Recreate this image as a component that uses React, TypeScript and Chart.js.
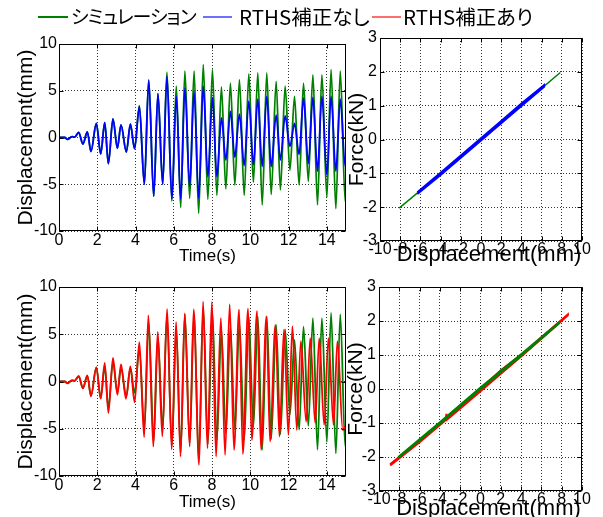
import React, { useEffect, useRef } from 'react';
import { Chart, registerables } from 'chart.js';

Chart.register(...registerables);

// ---------------- data ----------------
const legendLabels = ['シミュレーション', 'RTHS補正なし', 'RTHS補正あり'];

// simulation displacement (green), time [s] / displacement [mm]
const simTime = [0, 0.3, 0.44, 0.68, 0.82, 1.03, 1.25, 1.48, 1.67, 1.95, 2.18, 2.39, 2.58, 2.82, 3.05, 3.24, 3.52, 3.73, 3.95, 4.2, 4.46, 4.69, 4.95, 5.17, 5.42, 5.64, 5.9, 6.13, 6.36, 6.58, 6.83, 7.06, 7.3, 7.54, 7.78, 8.02, 8.25, 8.49, 8.72, 8.96, 9.19, 9.43, 9.68, 9.92, 10.16, 10.39, 10.62, 10.86, 11.09, 11.35, 11.57, 11.82, 12.07, 12.31, 12.55, 12.78, 13.03, 13.27, 13.51, 13.74, 14.0, 14.22, 14.47, 14.7, 14.96, 15];
const simDisp = [0, 0, -0.2, 0.1, 0.05, 0.55, -0.7, 0.6, -1.5, 1.5, -1.75, 1.6, -2.8, 2.0, -1.15, 1.35, -1.55, 1.4, -1.2, 3.4, -5.0, 6.2, -6.3, 4.7, -5.0, 7.0, -6.8, 5.5, -7.5, 7.1, -6.5, 7.1, -8.1, 7.8, -6.6, 7.25, -6.2, 5.4, -5.5, 5.8, -5.1, 6.2, -6.2, 6.8, -4.8, 6.9, -7.2, 6.9, -6.1, 6.0, -5.6, 5.5, -3.5, 4.4, -5.1, 5.8, -4.7, 6.7, -7.2, 6.7, -6.4, 7.25, -7.6, 7.1, -6.9, -6.8];

// RTHS without correction (blue)
const noCorrTime = simTime;
const noCorrDisp = [0, 0, -0.2, 0.1, 0.05, 0.55, -0.7, 0.6, -1.5, 1.5, -1.75, 1.6, -2.8, 2.0, -1.15, 1.35, -1.55, 1.45, -1.2, 3.3, -5.0, 6.1, -6.3, 4.7, -5.0, 6.5, -6.6, 4.4, -6.6, 5.3, -5.2, 4.9, -6.5, 5.5, -4.2, 4.3, -4.2, 2.1, -2.4, 2.8, -2.1, 2.5, -3.0, 3.9, -2.9, 4.1, -3.1, 4.4, -3.1, 2.4, -2.4, 2.3, -0.95, 1.5, -1.8, 4.2, -2.8, 4.3, -3.6, 4.4, -4.0, 4.4, -3.6, 4.1, -3.1, -3.0];

// RTHS with correction (red)
const corrTime = [0, 0.3, 0.43, 0.68, 0.82, 1.03, 1.25, 1.48, 1.67, 1.95, 2.18, 2.39, 2.58, 2.82, 3.05, 3.24, 3.5, 3.73, 3.95, 4.2, 4.45, 4.67, 4.93, 5.16, 5.4, 5.65, 5.89, 6.12, 6.35, 6.57, 6.83, 7.04, 7.32, 7.53, 7.76, 7.99, 8.21, 8.46, 8.68, 8.92, 9.15, 9.41, 9.61, 9.88, 10.08, 10.35, 10.56, 10.84, 11.03, 11.31, 11.52, 11.76, 11.99, 12.2, 12.43, 12.64, 12.92, 13.13, 13.39, 13.6, 13.86, 14.08, 14.35, 14.55, 14.83, 15];
const corrDisp = [0, 0, -0.16, 0.15, 0.1, 0.58, -0.73, 0.65, -1.57, 1.5, -1.82, 1.96, -3.34, 2.5, -1.4, 1.8, -1.82, 1.6, -2.2, 4.16, -5.9, 7.0, -6.9, 5.25, -5.8, 7.66, -7.17, 6.28, -7.94, 7.2, -6.88, 7.63, -8.83, 8.44, -7.06, 8.4, -7.94, 6.7, -7.77, 8.15, -7.24, 7.6, -7.66, 7.7, -6.17, 7.45, -7.24, 6.9, -6.35, 6.0, -5.82, 5.5, -5.64, 5.85, -5.13, 4.26, -4.25, 4.6, -4.4, 4.6, -4.6, 4.6, -4.6, 4.26, -5.13, -4.6];

// hysteresis: displacement [mm] / force [kN]
const simHystDisp = [-8.1, -4, 0, 4, 7.85];
const simHystForce = [-2.03, -1.01, 0, 1.0, 1.98];
const noCorrHystDisp = [-6.3, -4, -2, 0, 2, 4, 6.25, 6.25, 4, 2, 0, -2, -4, -6.3];
const noCorrHystForce = [-1.61, -1.05, -0.54, -0.03, 0.48, 0.99, 1.56, 1.61, 1.06, 0.55, 0.04, -0.47, -0.98, -1.56];
const simHyst2Disp = [-8.1, -4, 0, 4, 7.75, 7.75, 4, 0, -4, -8.1];
const simHyst2Force = [-2.03, -1.02, 0.0, 0.98, 1.93, 1.96, 1.02, 0.04, -0.98, -2.0];
const corrHystDisp = [-8.9, -6, -4, -3.4, -3.35, -3.3, -2, 0, 2, 4, 6, 8.6, 8.6, 6, 4, 2, 0, -2, -4, -6, -8.9];
const corrHystForce = [-2.25, -1.56, -1.06, -0.9, -0.73, -0.9, -0.57, -0.06, 0.45, 0.96, 1.48, 2.17, 2.19, 1.52, 1.0, 0.55, 0.0, -0.52, -1.02, -1.52, -2.22];

// axis tick settings
const timeAxis = { min: 0, max: 15, step: 2 };
const dispAxis = { min: -10, max: 10, step: 5 };
const hystDispAxis = { min: -10, max: 10, step: 2 };
const forceAxis = { min: -3, max: 3, step: 1 };

// ---------------- styling ----------------
const FW = 603;
const FH = 517;
const WY = 50;
const GREEN = 'rgb(0,128,0)';
const BLUE = 'rgb(0,0,255)';
const RED = 'rgb(255,0,0)';
const NARROW = "'Liberation Sans Narrow', 'Arial Narrow', 'Liberation Sans', Arial, sans-serif";

const zip = (xs: number[], ys: number[]) => xs.map((x, i) => ({ x, y: ys[i] }));

const framePlugin = {
  id: 'frame',
  afterDraw(chart: any) {
    const { ctx, chartArea: a, scales } = chart;
    const L = Math.round(a.left) + 0.5;
    const R = Math.round(a.right) - 0.5;
    const T = Math.round(a.top) + 0.5;
    const B = Math.round(a.bottom) - 0.5;
    ctx.save();
    ctx.strokeStyle = '#000';
    ctx.lineWidth = 1;
    ctx.strokeRect(L, T, R - L, B - T);
    ctx.beginPath();
    const xs = scales.x;
    const ys = scales.y;
    xs.ticks.forEach((t: any) => {
      const px = Math.round(xs.getPixelForValue(t.value)) + 0.5;
      ctx.moveTo(px, B); ctx.lineTo(px, B - 4);
      ctx.moveTo(px, T); ctx.lineTo(px, T + 4);
    });
    ys.ticks.forEach((t: any) => {
      const py = Math.round(ys.getPixelForValue(t.value)) + 0.5;
      ctx.moveTo(L, py); ctx.lineTo(L + 4, py);
      ctx.moveTo(R, py); ctx.lineTo(R - 4, py);
    });
    ctx.stroke();
    ctx.restore();
  },
};

// x-axis title, drawn under the axis with a small horizontal offset (as in the reference)
const xTitlePlugin = {
  id: 'xTitle',
  afterDraw(chart: any, _args: any, opts: any) {
    if (!opts || !opts.text) return;
    const { ctx, chartArea: a } = chart;
    ctx.save();
    ctx.fillStyle = '#000';
    ctx.font = `${opts.size}px ${NARROW}`;
    ctx.textAlign = 'center';
    ctx.textBaseline = 'middle';
    ctx.fillText(opts.text, (a.left + a.right) / 2 + opts.dx, a.bottom + opts.dy);
    ctx.restore();
  },
};

type Panel = {
  type: 'line' | 'scatter';
  l: number; t: number; r: number; b: number;
  hx: number;
  xAx: { min: number; max: number; step: number };
  yAx: { min: number; max: number; step: number };
  xTitle: string; xTitleSize: number; xTitleDx: number; xTitleDy: number;
  yTitle: string; yTitlePad: number;
  xTickPad: number; yTickPad: number;
  datasets: any[];
};

function buildConfig(p: Panel): any {
  const tickFont = { family: NARROW, size: 16 };
  return {
    type: p.type,
    data: { datasets: p.datasets },
    plugins: [framePlugin, xTitlePlugin],
    options: {
      animation: false,
      responsive: false,
      events: [],
      layout: { padding: { left: p.l - WY, top: p.t, right: FW - p.r, bottom: FH - p.b - p.hx } },
      plugins: {
        legend: { display: false },
        tooltip: { enabled: false },
        xTitle: { text: p.xTitle, size: p.xTitleSize, dx: p.xTitleDx, dy: p.xTitleDy },
      },
      elements: { point: { radius: 0 } },
      scales: {
        x: {
          type: 'linear',
          min: p.xAx.min,
          max: p.xAx.max,
          ticks: { stepSize: p.xAx.step, autoSkip: false, maxRotation: 0, minRotation: 0, includeBounds: false, color: '#000', font: tickFont, padding: p.xTickPad },
          grid: { color: '#000', lineWidth: 0.8, drawTicks: false },
          border: { display: false, dash: [1, 2] },
          title: { display: false },
          afterFit: (s: any) => { s.height = p.hx; s.paddingLeft = 0; s.paddingRight = 0; },
        },
        y: {
          type: 'linear',
          min: p.yAx.min,
          max: p.yAx.max,
          ticks: { stepSize: p.yAx.step, autoSkip: false, includeBounds: false, color: '#000', font: tickFont, padding: p.yTickPad },
          grid: { color: '#000', lineWidth: 0.8, drawTicks: false },
          border: { display: false, dash: [1, 2] },
          title: { display: true, text: p.yTitle, color: '#000', font: { family: NARROW, size: 21 }, padding: { top: p.yTitlePad, bottom: 0 } },
          afterFit: (s: any) => { s.width = WY; s.paddingTop = 0; s.paddingBottom = 0; },
        },
      },
    },
  };
}

const lineDs = (label: string, xs: number[], ys: number[], color: string, width: number) => ({
  label,
  data: zip(xs, ys),
  borderColor: color,
  backgroundColor: color,
  borderWidth: width,
  pointRadius: 0,
  cubicInterpolationMode: 'monotone',
  fill: false,
});

const hystDs = (label: string, xs: number[], ys: number[], color: string, width: number) => ({
  label,
  data: zip(xs, ys),
  borderColor: color,
  backgroundColor: color,
  borderWidth: width,
  pointRadius: 0,
  showLine: true,
  tension: 0,
  fill: false,
});

const panels: Panel[] = [
  {
    type: 'line', l: 59, t: 44, r: 346, b: 231, hx: 40,
    xAx: timeAxis, yAx: dispAxis,
    xTitle: 'Time(s)', xTitleSize: 17, xTitleDx: 5, xTitleDy: 25,
    yTitle: 'Displacement(mm)', yTitlePad: 5,
    xTickPad: 0, yTickPad: 2,
    datasets: [
      lineDs(legendLabels[1], noCorrTime, noCorrDisp, BLUE, 1.8),
      lineDs(legendLabels[0], simTime, simDisp, GREEN, 1.8),
    ],
  },
  {
    type: 'scatter', l: 380, t: 38, r: 582, b: 241, hx: 40,
    xAx: hystDispAxis, yAx: forceAxis,
    xTitle: 'Displacement(mm)', xTitleSize: 22, xTitleDx: 8, xTitleDy: 14,
    yTitle: 'Force(kN)', yTitlePad: 15,
    xTickPad: -1, yTickPad: 3,
    datasets: [
      hystDs(legendLabels[1], noCorrHystDisp, noCorrHystForce, BLUE, 2),
      hystDs(legendLabels[0], simHystDisp, simHystForce, GREEN, 1.5),
    ],
  },
  {
    type: 'line', l: 59, t: 287, r: 346, b: 476, hx: 40,
    xAx: timeAxis, yAx: dispAxis,
    xTitle: 'Time(s)', xTitleSize: 17, xTitleDx: 5, xTitleDy: 26,
    yTitle: 'Displacement(mm)', yTitlePad: 5,
    xTickPad: 0, yTickPad: 2,
    datasets: [
      lineDs(legendLabels[2], corrTime, corrDisp, RED, 1.8),
      lineDs(legendLabels[0], simTime, simDisp, GREEN, 1.8),
    ],
  },
  {
    type: 'scatter', l: 379, t: 287, r: 582, b: 491, hx: 26,
    xAx: hystDispAxis, yAx: forceAxis,
    xTitle: 'Displacement(mm)', xTitleSize: 22, xTitleDx: 8, xTitleDy: 18,
    yTitle: 'Force(kN)', yTitlePad: 15,
    xTickPad: -1, yTickPad: 3,
    datasets: [
      hystDs(legendLabels[0], simHyst2Disp, simHyst2Force, GREEN, 2),
      hystDs(legendLabels[2], corrHystDisp, corrHystForce, RED, 2.2),
    ],
  },
];

function PanelCanvas({ panel }: { panel: Panel }) {
  const ref = useRef<HTMLCanvasElement | null>(null);
  useEffect(() => {
    if (!ref.current) return;
    const chart = new Chart(ref.current, buildConfig(panel));
    return () => chart.destroy();
  }, [panel]);
  return (
    <canvas
      ref={ref}
      width={FW}
      height={FH}
      style={{ position: 'absolute', left: 0, top: 0, width: FW, height: FH, display: 'block' }}
    />
  );
}

const legendColors = [GREEN, 'rgb(110,110,255)', 'rgb(255,110,110)'];
const legendLayout = [
  { line: 38, lineW: 30, text: 71, size: 19, spacing: -1 },
  { line: 203, lineW: 29, text: 239, size: 20.5, spacing: 0 },
  { line: 372, lineW: 29, text: 403, size: 20.5, spacing: 0 },
];

export default function App() {
  return (
    <div style={{ position: 'absolute', left: 0, top: 0, width: FW, height: FH, background: '#fff', overflow: 'hidden' }}>
      {panels.map((p, i) => (
        <PanelCanvas key={i} panel={p} />
      ))}
      {legendLabels.map((lab, i) => (
        <React.Fragment key={lab}>
          <div style={{ position: 'absolute', left: legendLayout[i].line, top: 16, width: legendLayout[i].lineW, height: 2, background: legendColors[i] }} />
          <div
            style={{
              position: 'absolute',
              left: legendLayout[i].text,
              top: 5,
              lineHeight: '22px',
              fontSize: legendLayout[i].size,
              letterSpacing: legendLayout[i].spacing,
              whiteSpace: 'nowrap',
              fontFamily: "'Noto Sans CJK JP', sans-serif",
              fontFeatureSettings: '"palt"',
              color: '#000',
            }}
          >
            {lab}
          </div>
        </React.Fragment>
      ))}
    </div>
  );
}
